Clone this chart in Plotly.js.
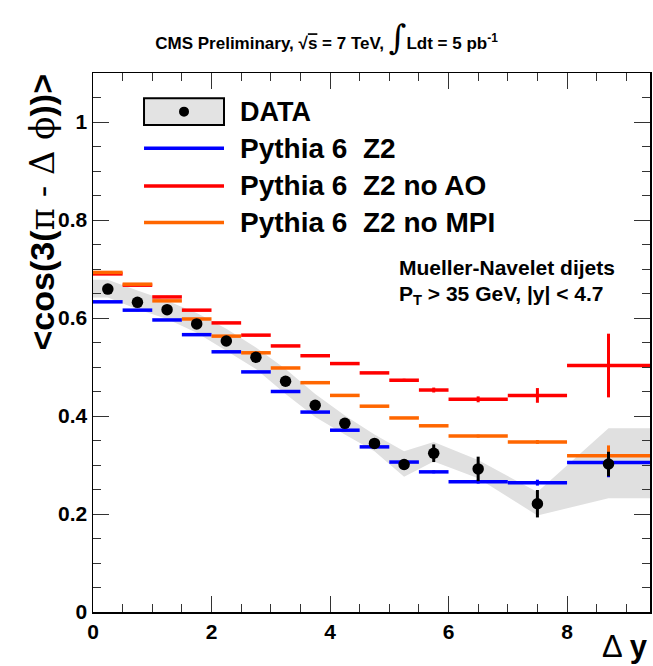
<!DOCTYPE html>
<html>
<head>
<meta charset="utf-8">
<script src="https://cdn.plot.ly/plotly-3.0.1.min.js"></script>
<style>html,body{margin:0;padding:0;background:#fff;}#chart{width:653px;height:666px;}</style>
</head>
<body>
<div id="chart"></div>
<script>
// Bin edges in Delta y
const binEdges = [0, 0.5, 1, 1.5, 2, 2.5, 3, 3.5, 4, 4.5, 5, 5.5, 6, 7, 8, 9.4];

// DATA
const dataVals = [0.659, 0.632, 0.617, 0.588, 0.553, 0.520, 0.471, 0.422, 0.385, 0.344, 0.301, 0.324, 0.292, 0.221, 0.302];
const dataErr  = [0.004, 0.004, 0.004, 0.005, 0.005, 0.005, 0.006, 0.006, 0.007, 0.008, 0.010, 0.018, 0.025, 0.028, 0.025];
// systematic band (upper / lower edge)
const bandHi = [0.678, 0.656, 0.635, 0.610, 0.578, 0.540, 0.496, 0.445, 0.401, 0.362, 0.328, 0.347, 0.310, 0.245, 0.375];
const bandLo = [0.642, 0.618, 0.598, 0.570, 0.533, 0.496, 0.445, 0.398, 0.362, 0.328, 0.276, 0.307, 0.273, 0.197, 0.232];

// Pythia 6 Z2
const z2Vals = [0.633, 0.616, 0.596, 0.566, 0.531, 0.490, 0.450, 0.408, 0.371, 0.337, 0.306, 0.286, 0.266, 0.264, 0.305];
const z2Err  = [0.002, 0.002, 0.002, 0.002, 0.002, 0.002, 0.002, 0.002, 0.002, 0.002, 0.003, 0.003, 0.004, 0.006, 0.030];
// Pythia 6 Z2 no AO
const noAOVals = [0.690, 0.667, 0.643, 0.616, 0.590, 0.565, 0.543, 0.523, 0.507, 0.488, 0.473, 0.453, 0.434, 0.442, 0.503];
const noAOErr  = [0.002, 0.002, 0.002, 0.002, 0.002, 0.002, 0.002, 0.002, 0.002, 0.002, 0.003, 0.005, 0.006, 0.015, 0.065];
// Pythia 6 Z2 no MPI
const noMPIVals = [0.693, 0.669, 0.635, 0.598, 0.563, 0.529, 0.498, 0.468, 0.442, 0.420, 0.396, 0.380, 0.359, 0.347, 0.319];
const noMPIErr  = [0.002, 0.002, 0.002, 0.002, 0.002, 0.002, 0.002, 0.002, 0.002, 0.002, 0.002, 0.002, 0.003, 0.004, 0.021];

const seriesNames = ['DATA', 'Pythia 6\u00a0\u00a0Z2', 'Pythia 6\u00a0\u00a0Z2 no AO', 'Pythia 6\u00a0\u00a0Z2 no MPI'];
const seriesColors = ['#000000', '#0000ff', '#ff0000', '#ff6600'];

// derived bin centres / half widths
const centers = [], halfW = [];
for (let i = 0; i < binEdges.length - 1; i++) {
  centers.push((binEdges[i] + binEdges[i + 1]) / 2);
  halfW.push((binEdges[i + 1] - binEdges[i]) / 2);
}
const xMin = binEdges[0], xMax = binEdges[binEdges.length - 1];

const FONT = 'Liberation Sans, Arial, Helvetica, sans-serif';

// band polygon
const bandX = [xMin].concat(centers, [xMax, xMax], centers.slice().reverse(), [xMin]);
const bandY = [bandHi[0]].concat(bandHi, [bandHi[bandHi.length - 1], bandLo[bandLo.length - 1]], bandLo.slice().reverse(), [bandLo[0]]);

function mcTrace(vals, errs, color, name) {
  return {
    type: 'scatter', mode: 'markers', name: name, x: centers, y: vals,
    marker: {size: 1, color: color, opacity: 0},
    error_x: {type: 'data', array: halfW, visible: true, color: color, thickness: 3.5, width: 0},
    error_y: {type: 'data', array: errs, visible: true, color: color, thickness: 3, width: 0},
    showlegend: false, hoverinfo: 'skip'
  };
}

const traces = [
  {type: 'scatter', mode: 'lines', x: bandX, y: bandY, fill: 'toself',
   fillcolor: '#e0e0e0', line: {width: 0, color: '#e0e0e0'}, showlegend: false, hoverinfo: 'skip'},
  mcTrace(z2Vals, z2Err, seriesColors[1], seriesNames[1]),
  mcTrace(noAOVals, noAOErr, seriesColors[2], seriesNames[2]),
  mcTrace(noMPIVals, noMPIErr, seriesColors[3], seriesNames[3]),
  {type: 'scatter', mode: 'markers', name: seriesNames[0], x: centers, y: dataVals,
   marker: {size: 11.5, color: '#000'},
   error_y: {type: 'data', array: dataErr, visible: true, color: '#000', thickness: 3, width: 0},
   showlegend: false, hoverinfo: 'skip'}
];

// legend drawn manually (paper coordinates)
const legX0 = 0.0916, legX1 = 0.2352, legTextX = 0.2603;
const legY = [0.9283, 0.8604, 0.7905, 0.7225];
const shapes = [
  {type: 'rect', xref: 'paper', yref: 'paper', x0: legX0, x1: legX1, y0: 0.9036, y1: 0.9531,
   line: {color: '#000', width: 2}, fillcolor: '#e3e3e3', layer: 'above'},
  {type: 'circle', xref: 'paper', yref: 'paper', xsizemode: 'pixel', ysizemode: 'pixel',
   xanchor: (legX0 + legX1) / 2, yanchor: legY[0], x0: -5, x1: 5, y0: -5, y1: 5,
   fillcolor: '#000', line: {width: 0}, layer: 'above'}
];
for (let i = 1; i < 4; i++) {
  shapes.push({type: 'line', xref: 'paper', yref: 'paper', x0: legX0, x1: legX1, y0: legY[i], y1: legY[i],
    line: {color: seriesColors[i], width: 3.5}, layer: 'above'});
}
const annotations = [];
for (let i = 0; i < 4; i++) {
  annotations.push({xref: 'paper', yref: 'paper', x: legTextX, y: legY[i], xanchor: 'left', yanchor: 'middle',
    text: seriesNames[i], showarrow: false, font: {family: FONT, size: i === 0 ? 27 : 28, color: '#000', weight: 'bold'}});
}
annotations.push(
  {xref: 'paper', yref: 'paper', x: 0.546, y: 0.6386, xanchor: 'left', yanchor: 'middle', showarrow: false,
   text: 'Mueller-Navelet dijets', font: {family: FONT, size: 21, color: '#000', weight: 'bold'}},
  {xref: 'paper', yref: 'paper', x: 0.546, y: 0.588, xanchor: 'left', yanchor: 'middle', showarrow: false,
   text: 'P<sub>T</sub> &gt; 35 GeV, |y| &lt; 4.7', font: {family: FONT, size: 21, color: '#000', weight: 'bold'}},
  {xref: 'paper', yref: 'paper', x: -0.0916, y: 0.743, xanchor: 'center', yanchor: 'middle', showarrow: false,
   textangle: -90,
   text: '<b>&lt;cos(3(</b><span style="font-family:DejaVu Serif;font-weight:normal">π - Δ ϕ</span><b>))&gt;</b>',
   font: {family: FONT, size: 34, color: '#000'}},
  {xref: 'paper', yref: 'paper', x: 1.0, y: -0.064, xanchor: 'right', yanchor: 'middle', showarrow: false,
   text: '<span style="font-weight:normal">Δ</span> <b>y</b>', font: {family: FONT, size: 31, color: '#000'}}
);

const layout = {
  width: 653, height: 666,
  margin: {l: 93, r: 3, t: 73, b: 54, pad: 0},
  paper_bgcolor: '#fff', plot_bgcolor: '#fff',
  showlegend: false,
  title: {text: 'CMS Preliminary, √<span style="text-decoration:overline">s</span> = 7 TeV, <span style="font-size:34px;font-weight:normal;font-family:DejaVu Serif">∫</span>Ldt = 5 pb<sup>-1</sup>',
          xref: 'container', x: 0.5, xanchor: 'center', yref: 'container', y: 0.935, yanchor: 'middle',
          font: {family: FONT, size: 17, color: '#000', weight: 'bold'}},
  xaxis: {range: [xMin, xMax], dtick: 2, tick0: 0, ticks: 'inside', ticklen: 16, tickwidth: 1, tickcolor: '#333',
          minor: {dtick: 0.5, ticks: 'inside', ticklen: 8, tickwidth: 1, tickcolor: '#333', showgrid: false},
          showline: true, linecolor: '#000', linewidth: 1.5, mirror: 'ticks', showgrid: false, zeroline: false,
          tickfont: {family: FONT, size: 21, color: '#000', weight: 'bold'}, fixedrange: true},
  yaxis: {range: [0, 1.1], dtick: 0.2, tick0: 0, ticks: 'inside', ticklen: 16, tickwidth: 1, tickcolor: '#333',
          minor: {dtick: 0.05, ticks: 'inside', ticklen: 8, tickwidth: 1, tickcolor: '#333', showgrid: false},
          showline: true, linecolor: '#000', linewidth: 1.5, mirror: 'ticks', showgrid: false, zeroline: false,
          tickfont: {family: FONT, size: 21, color: '#000', weight: 'bold'}, fixedrange: true},
  shapes: shapes,
  annotations: annotations
};

Plotly.newPlot('chart', traces, layout, {staticPlot: true, displayModeBar: false});
</script>
</body>
</html>
